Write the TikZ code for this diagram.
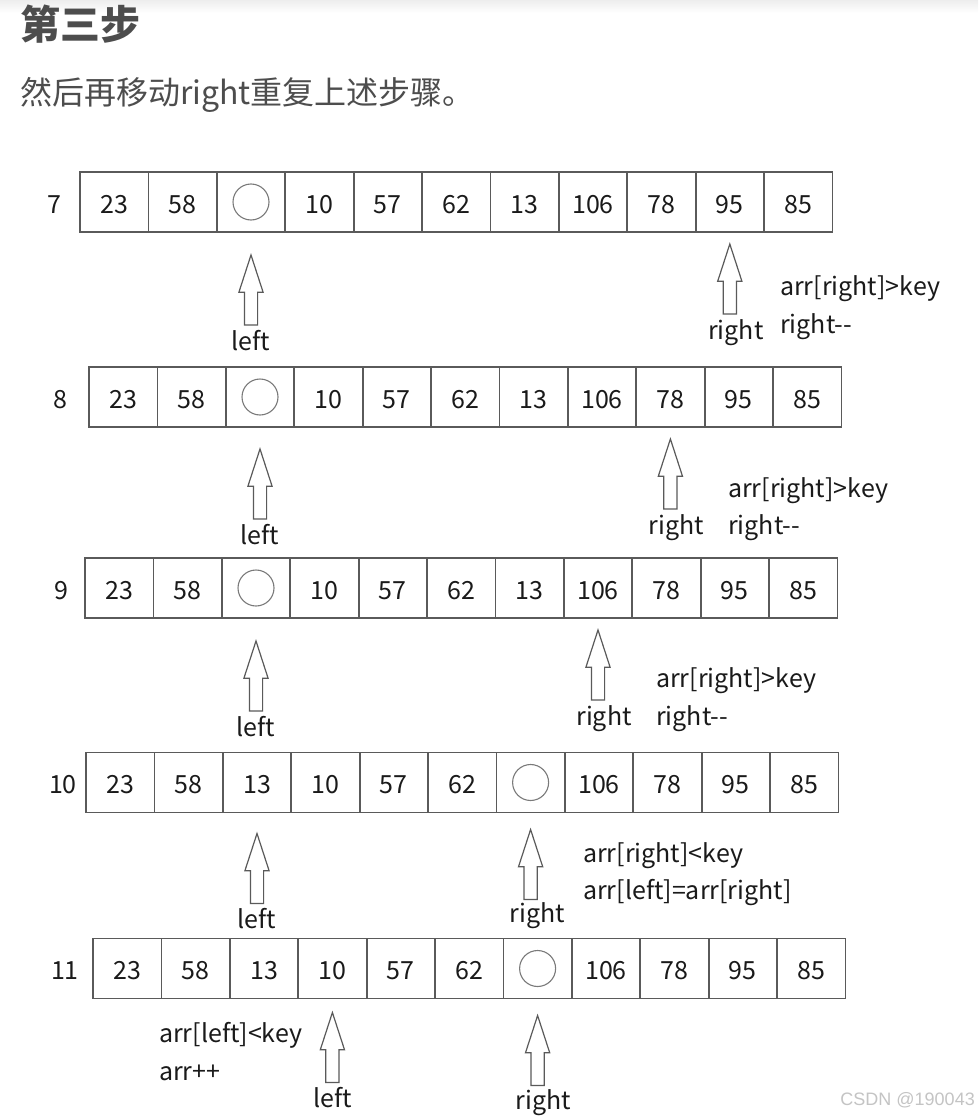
\documentclass[tikz,border=0pt]{standalone}
\usepackage{fontspec}
\setmainfont{Noto Sans CJK SC}
\newfontfamily\markfont{Liberation Sans}
\usepackage{xcolor}
\usepackage{tikz}
\usetikzlibrary{shapes, shapes.arrows, positioning}

\definecolor{boxgray}{HTML}{5A5A5A}
\definecolor{holegray}{HTML}{7A7A7A}
\definecolor{inkblack}{HTML}{1A1A1A}
\definecolor{headgray}{HTML}{4D4D4D}
\definecolor{markgray}{HTML}{C4C4C4}

\begin{document}
\begin{tikzpicture}[
    x=1pt, y=-1pt,
    font=\fontsize{25}{30}\selectfont,
    cell/.style={rectangle, draw=boxgray, line width=1.8pt, minimum width=68.4pt, minimum height=60pt, inner sep=0pt, outer sep=0pt, text height=22.5pt, text depth=0pt, text=inkblack},
    hole/.style={circle, draw=holegray, line width=1.1pt, minimum size=36pt, inner sep=0pt},
    pointer/.style={single arrow, draw=boxgray, fill=white, line width=1.2pt, rotate=90, minimum height=70pt, minimum width=23pt, single arrow head extend=5.5pt, single arrow tip angle=36, inner xsep=0pt, inner ysep=6pt, outer sep=0pt},
    tag/.style={text=inkblack, inner sep=0pt, text height=19pt, text depth=6pt},
    note/.style={text=inkblack, inner sep=0pt, anchor=base west},
    rowno/.style={text=inkblack, inner sep=0pt, text height=22.5pt, text depth=0pt}
]

% Page
\fill[white] (0,0) rectangle (978,1116);
\shade[top color=black!7, bottom color=white] (0,0) rectangle (978,13);

% Heading
\node[anchor=base west, inner sep=0pt, text=headgray, font=\bfseries\fontsize{40}{48}\selectfont] (title) at (20,40) {第三步};
\node[anchor=base west, inner sep=0pt, text=headgray, font=\fontsize{32}{38}\selectfont] (intro) at (20,104) {然后再移动right重复上述步骤。};

% Row 7
\node[cell, anchor=west] (c7a) at (80,202) {23};
\node[cell, right=0pt of c7a] (c7b) {58};
\node[cell, right=0pt of c7b] (c7c) {};
\node[cell, right=0pt of c7c] (c7d) {10};
\node[cell, right=0pt of c7d] (c7e) {57};
\node[cell, right=0pt of c7e] (c7f) {62};
\node[cell, right=0pt of c7f] (c7g) {13};
\node[cell, right=0pt of c7g] (c7h) {106};
\node[cell, right=0pt of c7h] (c7i) {78};
\node[cell, right=0pt of c7i] (c7j) {95};
\node[cell, right=0pt of c7j] (c7k) {85};
\node[hole] (h7) at (c7c) {};
\node[rowno, left=18pt of c7a] (n7) {7};
\node[pointer, below=15pt of c7c, anchor=tip, xshift=-8pt] (l7) {};
\node[pointer, below=8pt of c7j, anchor=tip, xshift=-4pt] (r7) {};
\node[tag, below=6pt of l7.tail] (tl7) {left};
\node[tag, below=6pt of r7.tail, xshift=6pt] (tr7) {right};
\node[note] (a7) at (780,295) {arr[right]>key};
\node[note] (b7) at (780,333) {right-{}-};

% Row 8
\node[cell, anchor=west] (c8a) at (89,397) {23};
\node[cell, right=0pt of c8a] (c8b) {58};
\node[cell, right=0pt of c8b] (c8c) {};
\node[cell, right=0pt of c8c] (c8d) {10};
\node[cell, right=0pt of c8d] (c8e) {57};
\node[cell, right=0pt of c8e] (c8f) {62};
\node[cell, right=0pt of c8f] (c8g) {13};
\node[cell, right=0pt of c8g] (c8h) {106};
\node[cell, right=0pt of c8h] (c8i) {78};
\node[cell, right=0pt of c8i] (c8j) {95};
\node[cell, right=0pt of c8j] (c8k) {85};
\node[hole] (h8) at (c8c) {};
\node[rowno, left=21pt of c8a] (n8) {8};
\node[pointer, below=15pt of c8c, anchor=tip, xshift=-7pt] (l8) {};
\node[pointer, below=15pt of c8i, anchor=tip, xshift=3pt] (r8) {};
\node[tag, below=6pt of l8.tail] (tl8) {left};
\node[tag, below=6pt of r8.tail, xshift=6pt] (tr8) {right};
\node[note] (a8) at (728,497) {arr[right]>key};
\node[note] (b8) at (728,534) {right-{}-};

% Row 9
\node[cell, anchor=west] (c9a) at (85,588) {23};
\node[cell, right=0pt of c9a] (c9b) {58};
\node[cell, right=0pt of c9b] (c9c) {};
\node[cell, right=0pt of c9c] (c9d) {10};
\node[cell, right=0pt of c9d] (c9e) {57};
\node[cell, right=0pt of c9e] (c9f) {62};
\node[cell, right=0pt of c9f] (c9g) {13};
\node[cell, right=0pt of c9g] (c9h) {106};
\node[cell, right=0pt of c9h] (c9i) {78};
\node[cell, right=0pt of c9i] (c9j) {95};
\node[cell, right=0pt of c9j] (c9k) {85};
\node[hole] (h9) at (c9c) {};
\node[rowno, left=16pt of c9a] (n9) {9};
\node[pointer, below=15pt of c9c, anchor=tip, xshift=-8pt] (l9) {};
\node[pointer, below=15pt of c9h, anchor=tip, xshift=3pt] (r9) {};
\node[tag, below=6pt of l9.tail] (tl9) {left};
\node[tag, below=6pt of r9.tail, xshift=6pt] (tr9) {right};
\node[note] (a9) at (656,687) {arr[right]>key};
\node[note] (b9) at (656,725) {right-{}-};

% Row 10
\node[cell, anchor=west] (c10a) at (86,782.5) {23};
\node[cell, right=0pt of c10a] (c10b) {58};
\node[cell, right=0pt of c10b] (c10c) {13};
\node[cell, right=0pt of c10c] (c10d) {10};
\node[cell, right=0pt of c10d] (c10e) {57};
\node[cell, right=0pt of c10e] (c10f) {62};
\node[cell, right=0pt of c10f] (c10g) {};
\node[cell, right=0pt of c10g] (c10h) {106};
\node[cell, right=0pt of c10h] (c10i) {78};
\node[cell, right=0pt of c10i] (c10j) {95};
\node[cell, right=0pt of c10j] (c10k) {85};
\node[hole] (h10) at (c10g) {};
\node[rowno, left=9pt of c10a] (n10) {10};
\node[pointer, below=14pt of c10c, anchor=tip, xshift=-7pt] (l10) {};
\node[pointer, below=10pt of c10g, anchor=tip, xshift=-7pt] (r10) {};
\node[tag, below=6pt of l10.tail] (tl10) {left};
\node[tag, below=4pt of r10.tail, xshift=7pt] (tr10) {right};
\node[note] (a10) at (583,862) {arr[right]<key};
\node[note] (b10) at (583,899) {arr[left]=arr[right]};

% Row 11
\node[cell, anchor=west] (c11a) at (93,968.5) {23};
\node[cell, right=0pt of c11a] (c11b) {58};
\node[cell, right=0pt of c11b] (c11c) {13};
\node[cell, right=0pt of c11c] (c11d) {10};
\node[cell, right=0pt of c11d] (c11e) {57};
\node[cell, right=0pt of c11e] (c11f) {62};
\node[cell, right=0pt of c11f] (c11g) {};
\node[cell, right=0pt of c11g] (c11h) {106};
\node[cell, right=0pt of c11h] (c11i) {78};
\node[cell, right=0pt of c11i] (c11j) {95};
\node[cell, right=0pt of c11j] (c11k) {85};
\node[hole] (h11) at (c11g) {};
\node[rowno, left=14pt of c11a] (n11) {11};
\node[pointer, below=10pt of c11d, anchor=tip, xshift=-4pt] (l11) {};
\node[pointer, below=10pt of c11g, anchor=tip, xshift=-7pt] (r11) {};
\node[tag, below=6pt of l11.tail] (tl11) {left};
\node[tag, below=5pt of r11.tail, xshift=6pt] (tr11) {right};
\node[note] (a11) at (159,1042) {arr[left]<key};
\node[note] (b11) at (159,1080) {arr++};

% Watermark
\node[anchor=base east, inner sep=0pt, text=markgray, font=\markfont\fontsize{18}{20}\selectfont] (mark) at (975,1105) {CSDN @190043};

\end{tikzpicture}
\end{document}
